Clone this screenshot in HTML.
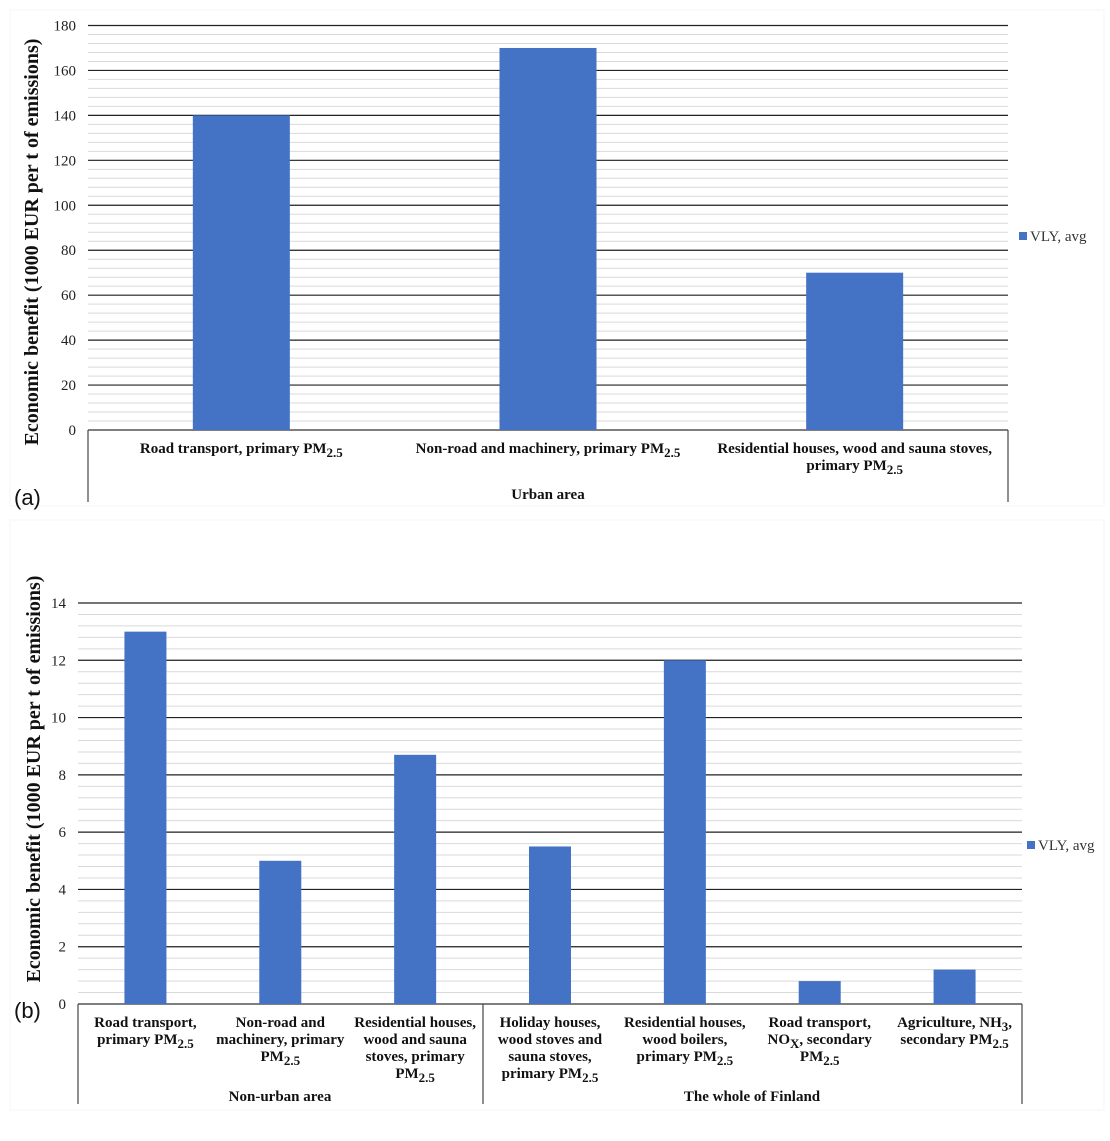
<!DOCTYPE html>
<html><head><meta charset="utf-8"><style>
html,body{margin:0;padding:0;background:#fff;}
svg{display:block;}
text{font-family:"Liberation Serif",serif;}
.cat{font-weight:bold;font-size:15px;fill:#111;text-anchor:middle;}
.tick{font-size:15px;fill:#222;text-anchor:end;}
.ttl{font-weight:bold;font-size:20px;fill:#111;text-anchor:middle;}
.leg{font-size:15px;fill:#333;}
.pl{font-family:"Liberation Sans",sans-serif;font-size:22px;fill:#111;}
</style></head><body>
<svg id="s" width="1110" height="1141" viewBox="0 0 1110 1141">
<rect x="10" y="10" width="1094" height="496" fill="none" stroke="#f4f4f4"/>
<rect x="10" y="520" width="1094" height="590" fill="none" stroke="#f6f6f6"/>
<text class="pl" x="14" y="505">(a)</text>
<text class="pl" x="14" y="1018">(b)</text>
<text class="ttl" transform="translate(38,242) rotate(-90)">Economic benefit (1000 EUR per t  of emissions)</text>
<text class="ttl" transform="translate(40,779) rotate(-90)">Economic benefit (1000 EUR per t  of emissions)</text>
<g id="ga"></g><g id="gb"></g>
</svg>
<script>
const catsA = [["Road transport, primary PM|2.5"],["Non-road and machinery, primary PM|2.5"],["Residential houses, wood and  sauna stoves,","primary PM|2.5"]];
const valsA = [140, 170, 70];
const ticksA = [0,20,40,60,80,100,120,140,160,180];
const catsB = [["Road transport,","primary PM|2.5"],["Non-road and","machinery, primary","PM|2.5"],["Residential houses,","wood and  sauna","stoves, primary","PM|2.5"],["Holiday  houses,","wood stoves and","sauna stoves,","primary PM|2.5"],["Residential houses,","wood boilers,","primary PM|2.5"],["Road transport,","NO#X#, secondary","PM|2.5"],["Agriculture, NH#3#,","secondary PM|2.5"]];
const valsB = [13, 5, 8.7, 5.5, 12, 0.8, 1.2];
const ticksB = [0,2,4,6,8,10,12,14];
const NS="http://www.w3.org/2000/svg";
function mk(p,t,a){const e=document.createElementNS(NS,t);for(const k in a)e.setAttribute(k,a[k]);p.appendChild(e);return e;}
function lbl(g,x,y,s){
  const t=mk(g,'text',{class:'cat',x:x,y:y});
  
  
  const parts=s.split(/([|#])/);let mode=null;
  for(const p of parts){
    if(p==='|'){mode='sub';continue;}
    if(p==='#'){mode=mode==='s2'?null:'s2';continue;}
    if(!p)continue;
    const ts=mk(t,'tspan',{});
    if(mode==='sub'||mode==='s2'){ts.setAttribute('baseline-shift','-4');ts.setAttribute('font-size','13');}
    ts.textContent=p;
  }
}
function chart(g,o){
  const ys=v=>o.y0-(v/o.max)*(o.y0-o.y1);
  for(let v=0;v<=o.max+1e-9;v+=o.minor){
    const l=mk(g,'line',{x1:o.x0,x2:o.x1,y1:ys(v),y2:ys(v),stroke:'#d9d9d9','stroke-width':1});
    
  }
  o.ticks.forEach(v=>{
    const l=mk(g,'line',{x1:o.x0,x2:o.x1,y1:ys(v),y2:ys(v),stroke:v===0?'#333':'#222','stroke-width':1.2});
    
    const t=mk(g,'text',{class:'tick',x:o.x0-12,y:ys(v)+5});
    
    t.textContent=v;
  });
  const n=o.cats.length,cw=(o.x1-o.x0)/n;
  o.vals.forEach((v,i)=>{
    const cx=o.x0+cw*(i+.5);
    const r=mk(g,'rect',{x:cx-o.bw/2,y:ys(v),width:o.bw,height:ys(0)-ys(v),fill:'#4472c4'});
    
    o.cats[i].forEach((s,j)=>lbl(g,cx,o.y0+23+j*17,s));
  });
  o.seps.forEach(x=>{
    const l=mk(g,'line',{x1:x,x2:x,y1:o.y0,y2:o.yb,stroke:'#444','stroke-width':1.2});
    
  });
  o.groups.forEach(gr=>{
    const t=mk(g,'text',{class:'cat',x:gr[1],y:o.gy});
    
    t.textContent=gr[0];
  });
  const s=mk(g,'rect',{x:o.lx,y:o.ly-5,width:8,height:8,fill:'#4472c4'});
  
  const t=mk(g,'text',{class:'leg',x:o.lx+11,y:o.ly+4});
  
  t.textContent='VLY, avg';
}
chart(document.getElementById('ga'),{x0:88,x1:1008,y0:430,y1:25.5,max:180,minor:4,ticks:ticksA,cats:catsA,vals:valsA,bw:97,seps:[88,1008],yb:502,groups:[["Urban area",548]],gy:499,lx:1019,ly:237});
chart(document.getElementById('gb'),{x0:78,x1:1022,y0:1004,y1:603,max:14,minor:0.4,ticks:ticksB,cats:catsB,vals:valsB,bw:42,seps:[78,483,1022],yb:1104,groups:[["Non-urban area",280],["The whole of Finland",752]],gy:1101,lx:1027,ly:846});
</script>
</body></html>
